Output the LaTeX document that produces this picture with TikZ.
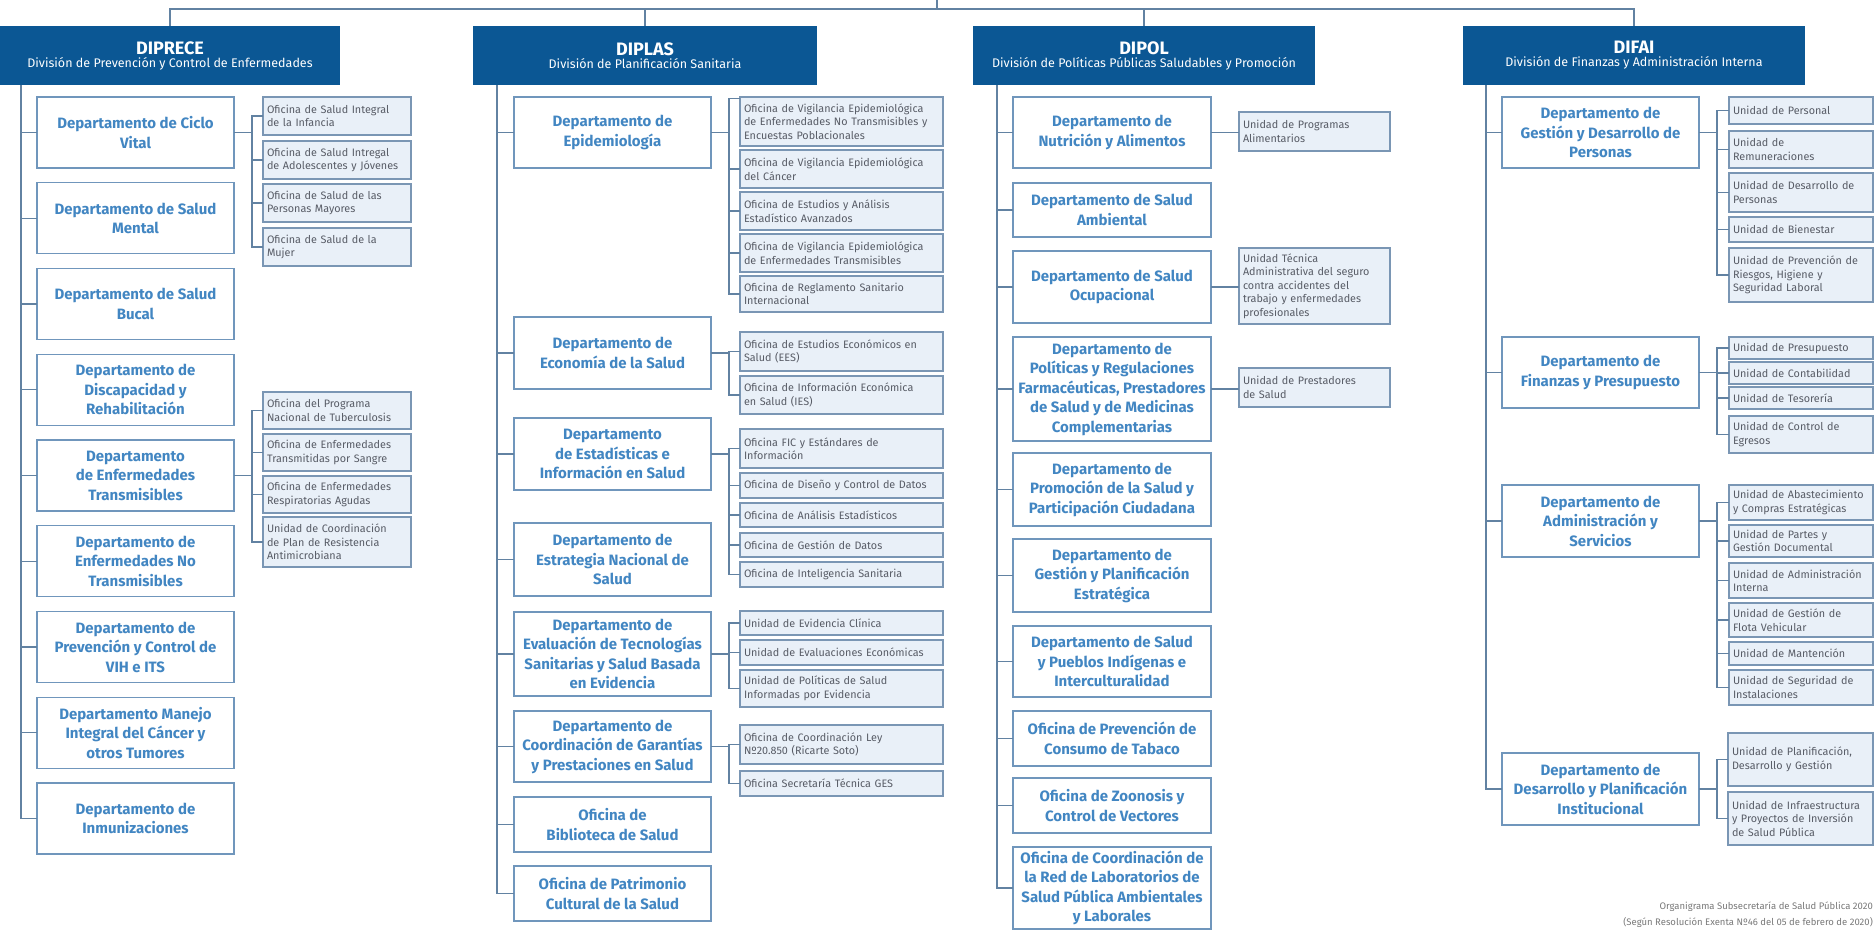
\documentclass[tikz,border=0pt]{standalone}
\usepackage{fontspec}
\setmainfont{Fira Sans}

\definecolor{hdrblue}{RGB}{11,87,148}
\definecolor{depttext}{RGB}{66,134,194}
\definecolor{deptline}{RGB}{112,150,188}
\definecolor{unitfill}{RGB}{233,240,248}
\definecolor{unitline}{RGB}{122,150,180}
\definecolor{unittext}{RGB}{88,92,102}
\definecolor{connline}{RGB}{98,130,162}
\definecolor{foottext}{RGB}{120,120,120}

\newcommand{\hdrtitle}{\fontsize{18}{20}\selectfont\bfseries}
\newcommand{\hdrsub}{\fontsize{12.5}{14}\selectfont}
\newcommand{\dptfnt}{\fontsize{15}{19.5}\selectfont\bfseries}
\newcommand{\untfnt}{\fontsize{10.8}{13.5}\selectfont\hyphenpenalty=10000\exhyphenpenalty=10000}

\tikzset{
  hdr/.style={fill=hdrblue, text=white, minimum height=59, inner sep=0pt, align=center},
  dept/.style={draw=deptline, line width=1.3pt, fill=white, text=depttext, minimum width=197,
    align=center, inner sep=2pt, font=\dptfnt},
  unit/.style={draw=unitline, line width=1.1pt, fill=unitfill, text=unittext, align=left,
    inner xsep=4pt, inner ysep=1pt, font=\untfnt},
  conn/.style={draw=connline, line width=1.1pt, line cap=rect},
  foot/.style={text=foottext, font=\fontsize{9.5}{11}\selectfont, inner sep=0pt}
}

\begin{document}
\begin{tikzpicture}[x=1pt,y=-1pt]
\useasboundingbox (0,0) rectangle (1874,930);

\coordinate (root) at (937,0);
\coordinate (bus)  at (937,9);
\coordinate (trA) at (21,0);
\coordinate (trB) at (497,0);
\coordinate (trC) at (997,0);
\coordinate (trD) at (1486,0);
\coordinate (brA) at (252,0);
\coordinate (brB) at (729,0);
\coordinate (brD) at (1717,0);

% divisiones
\begin{scope}[every node/.style={hdr}]
  \node[minimum width=340] (hA) at (170,55.5)  {{\hdrtitle DIPRECE}\\[1pt]{\hdrsub División de Prevención y Control de Enfermedades}};
  \node[minimum width=344] (hB) at (645,55.5)  {{\hdrtitle DIPLAS}\\[1pt]{\hdrsub División de Planificación Sanitaria}};
  \node[minimum width=342] (hC) at (1144,55.5) {{\hdrtitle DIPOL}\\[1pt]{\hdrsub División de Políticas Públicas Saludables y Promoción}};
  \node[minimum width=342] (hD) at (1634,55.5) {{\hdrtitle DIFAI}\\[1pt]{\hdrsub División de Finanzas y Administración Interna}};
\end{scope}

% departamentos
\begin{scope}[every node/.style={dept}]
  \node[minimum height=71] (a1) at (135.5,132.5) {Departamento de Ciclo\\Vital};
  \node[minimum height=71] (a2) at (135.5,218.3) {Departamento de Salud\\Mental};
  \node[minimum height=71] (a3) at (135.5,304)   {Departamento de Salud\\Bucal};
  \node[minimum height=71] (a4) at (135.5,389.8) {Departamento de\\Discapacidad y\\Rehabilitación};
  \node[minimum height=71] (a5) at (135.5,475.5) {Departamento\\de Enfermedades\\Transmisibles};
  \node[minimum height=71] (a6) at (135.5,561.3) {Departamento de\\Enfermedades No\\Transmisibles};
  \node[minimum height=71] (a7) at (135.5,647)   {Departamento de\\Prevención y Control de\\VIH e ITS};
  \node[minimum height=71] (a8) at (135.5,732.8) {Departamento Manejo\\Integral del Cáncer y\\otros Tumores};
  \node[minimum height=71] (a9) at (135.5,818.5) {Departamento de\\Inmunizaciones};

  \node[minimum height=71] (b1) at (612.5,132.5) {Departamento de\\Epidemiología};
  \node[minimum height=72] (b2) at (612.5,353)   {Departamento de\\Economía de la Salud};
  \node[minimum height=72] (b3) at (612.5,454)   {Departamento\\de Estadísticas e\\Información en Salud};
  \node[minimum height=73] (b4) at (612.5,559.5) {Departamento de\\Estrategia Nacional de\\Salud};
  \node[minimum height=84] (b5) at (612.5,654)   {Departamento de\\Evaluación de Tecnologías\\Sanitarias y Salud Basada\\en Evidencia};
  \node[minimum height=71] (b6) at (612.5,746.5) {Departamento de\\Coordinación de Garantías\\y Prestaciones en Salud};
  \node[minimum height=55] (b7) at (612.5,824.5) {Oficina de\\Biblioteca de Salud};
  \node[minimum height=55] (b8) at (612.5,893.5) {Oficina de Patrimonio\\Cultural de la Salud};

  \node[minimum height=71,minimum width=198] (c1)  at (1112,132.5) {Departamento de\\Nutrición y Alimentos};
  \node[minimum height=54,minimum width=198] (c2)  at (1112,210)   {Departamento de Salud\\Ambiental};
  \node[minimum height=72,minimum width=198] (c3)  at (1112,287)   {Departamento de Salud\\Ocupacional};
  \node[minimum height=104,minimum width=198] (c4) at (1112,389)   {Departamento de\\Políticas y Regulaciones\\Farmacéuticas, Prestadores\\de Salud y de Medicinas\\Complementarias};
  \node[minimum height=73,minimum width=198] (c5)  at (1112,489.5) {Departamento de\\Promoción de la Salud y\\Participación Ciudadana};
  \node[minimum height=73,minimum width=198] (c6)  at (1112,575.5) {Departamento de\\Gestión y Planificación\\Estratégica};
  \node[minimum height=71,minimum width=198] (c7)  at (1112,661.5) {Departamento de Salud\\y Pueblos Indígenas e\\Interculturalidad};
  \node[minimum height=55,minimum width=198] (c8)  at (1112,738.5) {Oficina de Prevención de\\Consumo de Tabaco};
  \node[minimum height=55,minimum width=198] (c9)  at (1112,805.5) {Oficina de Zoonosis y\\Control de Vectores};
  \node[minimum height=82,minimum width=198] (c10) at (1112,888)   {Oficina de Coordinación de\\la Red de Laboratorios de\\Salud Pública Ambientales\\y Laborales};

  \node[minimum height=71] (d1) at (1600.5,132.5) {Departamento de\\Gestión y Desarrollo de\\Personas};
  \node[minimum height=71] (d2) at (1600.5,372.5) {Departamento de\\Finanzas y Presupuesto};
  \node[minimum height=72] (d3) at (1600.5,521)   {Departamento de\\Administración y\\Servicios};
  \node[minimum height=72] (d4) at (1600.5,789)   {Departamento de\\Desarrollo y Planificación\\Institucional};
\end{scope}

% oficinas y unidades
\begin{scope}[every node/.style={unit}]
  \node[text width=140,minimum height=38] (ao1) at (337,116)   {Oficina de Salud Integral\\de la Infancia};
  \node[text width=140,minimum height=38] (ao2) at (337,160)   {Oficina de Salud Intregal\\de Adolescentes y Jóvenes};
  \node[text width=140,minimum height=38] (ao3) at (337,203)   {Oficina de Salud de las\\Personas Mayores};
  \node[text width=140,minimum height=38] (ao4) at (337,247)   {Oficina de Salud de la\\Mujer};
  \node[text width=140,minimum height=37] (ao5) at (337,410.5) {Oficina del Programa\\Nacional de Tuberculosis};
  \node[text width=140,minimum height=37] (ao6) at (337,452.5) {Oficina de Enfermedades\\Transmitidas por Sangre};
  \node[text width=140,minimum height=37] (ao7) at (337,494.5) {Oficina de Enfermedades\\Respiratorias Agudas};
  \node[text width=140,minimum height=50] (ao8) at (337,542)   {Unidad de Coordinación\\de Plan de Resistencia\\Antimicrobiana};

  \node[text width=195,minimum height=49] (bo1)  at (841.5,121.5) {Oficina de Vigilancia Epidemiológica\\de Enfermedades No Transmisibles y\\Encuestas Poblacionales};
  \node[text width=195,minimum height=38] (bo2)  at (841.5,169)   {Oficina de Vigilancia Epidemiológica\\del Cáncer};
  \node[text width=195,minimum height=38] (bo3)  at (841.5,211)   {Oficina de Estudios y Análisis\\Estadístico Avanzados};
  \node[text width=195,minimum height=38] (bo4)  at (841.5,253)   {Oficina de Vigilancia Epidemiológica\\de Enfermedades Transmisibles};
  \node[text width=195,minimum height=36] (bo5)  at (841.5,294)   {Oficina de Reglamento Sanitario\\Internacional};
  \node[text width=195,minimum height=39] (bo6)  at (841.5,351.5) {Oficina de Estudios Económicos en\\Salud (EES)};
  \node[text width=195,minimum height=38] (bo7)  at (841.5,395)   {Oficina de Información Económica\\en Salud (IES)};
  \node[text width=195,minimum height=39] (bo8)  at (841.5,448.5) {Oficina FIC y Estándares de\\Información};
  \node[text width=195,minimum height=25] (bo9)  at (841.5,485.5) {Oficina de Diseño y Control de Datos};
  \node[text width=195,minimum height=24] (bo10) at (841.5,515)   {Oficina de Análisis Estadísticos};
  \node[text width=195,minimum height=24] (bo11) at (841.5,545)   {Oficina de Gestión de Datos};
  \node[text width=195,minimum height=25] (bo12) at (841.5,574.5) {Oficina de Inteligencia Sanitaria};
  \node[text width=195,minimum height=24] (bo13) at (841.5,623)   {Unidad de Evidencia Clínica};
  \node[text width=195,minimum height=25] (bo14) at (841.5,652.5) {Unidad de Evaluaciones Económicas};
  \node[text width=195,minimum height=37] (bo15) at (841.5,688.5) {Unidad de Políticas de Salud\\Informadas por Evidencia};
  \node[text width=195,minimum height=39] (bo16) at (841.5,744.5) {Oficina de Coordinación Ley\\Nº20.850 (Ricarte Soto)};
  \node[text width=195,minimum height=25] (bo17) at (841.5,783.5) {Oficina Secretaría Técnica GES};

  \node[text width=143,minimum height=39] (co1) at (1314.5,131.5) {Unidad de Programas\\Alimentarios};
  \node[text width=143,minimum height=76] (co2) at (1314.5,286)   {Unidad Técnica\\Administrativa del seguro\\contra accidentes del\\trabajo y enfermedades\\profesionales};
  \node[text width=143,minimum height=39] (co3) at (1314.5,387.5) {Unidad de Prestadores\\de Salud};

  \node[text width=136,minimum height=27] (do1)  at (1801,110.5) {Unidad de Personal};
  \node[text width=136,minimum height=37] (do2)  at (1801,149.5) {Unidad de\\Remuneraciones};
  \node[text width=136,minimum height=39] (do3)  at (1801,192.5) {Unidad de Desarrollo de\\Personas};
  \node[text width=136,minimum height=25] (do4)  at (1801,229.5) {Unidad de Bienestar};
  \node[text width=136,minimum height=54] (do5)  at (1801,275)   {Unidad de Prevención de\\Riesgos, Higiene y\\Seguridad Laboral};
  \node[text width=136,minimum height=22] (do6)  at (1801,348)   {Unidad de Presupuesto};
  \node[text width=136,minimum height=22] (do7)  at (1801,373)   {Unidad de Contabilidad};
  \node[text width=136,minimum height=22] (do8)  at (1801,398)   {Unidad de Tesorería};
  \node[text width=136,minimum height=37] (do9)  at (1801,434.5) {Unidad de Control de\\Egresos};
  \node[text width=136,minimum height=35] (do10) at (1801,502.5) {Unidad de Abastecimiento\\y Compras Estratégicas};
  \node[text width=136,minimum height=32] (do11) at (1801,541)   {Unidad de Partes y\\Gestión Documental};
  \node[text width=136,minimum height=35] (do12) at (1801,580.5) {Unidad de Administración\\Interna};
  \node[text width=136,minimum height=34] (do13) at (1801,620)   {Unidad de Gestión de\\Flota Vehicular};
  \node[text width=136,minimum height=23] (do14) at (1801,653.5) {Unidad de Mantención};
  \node[text width=136,minimum height=35] (do15) at (1801,687.5) {Unidad de Seguridad de\\Instalaciones};
  \node[text width=137,minimum height=53] (do16) at (1800.5,759.5) {Unidad de Planificación,\\Desarrollo y Gestión};
  \node[text width=137,minimum height=53] (do17) at (1800.5,818.5) {Unidad de Infraestructura\\y Proyectos de Inversión\\de Salud Pública};
\end{scope}

% conectores
\begin{scope}[every edge/.style={conn}]
  \path (root) edge (bus);
  \draw[conn] (hA.north) |- (bus) -| (hD.north);
  \path (hB.north) edge (hB.north |- bus);
  \path (hC.north) edge (hC.north |- bus);

  \draw[conn] (hA.south -| trA) |- (a9.west);
  \path (a1.west) edge (a1.west -| trA);
  \path (a2.west) edge (a2.west -| trA);
  \path (a3.west) edge (a3.west -| trA);
  \path (a4.west) edge (a4.west -| trA);
  \path (a5.west) edge (a5.west -| trA);
  \path (a6.west) edge (a6.west -| trA);
  \path (a7.west) edge (a7.west -| trA);
  \path (a8.west) edge (a8.west -| trA);

  \draw[conn] (hB.south -| trB) |- (b8.west);
  \path (b1.west) edge (b1.west -| trB);
  \path (b2.west) edge (b2.west -| trB);
  \path (b3.west) edge (b3.west -| trB);
  \path (b4.west) edge (b4.west -| trB);
  \path (b5.west) edge (b5.west -| trB);
  \path (b6.west) edge (b6.west -| trB);
  \path (b7.west) edge (b7.west -| trB);

  \draw[conn] (hC.south -| trC) |- (c10.west);
  \path (c1.west) edge (c1.west -| trC);
  \path (c2.west) edge (c2.west -| trC);
  \path (c3.west) edge (c3.west -| trC);
  \path (c4.west) edge (c4.west -| trC);
  \path (c5.west) edge (c5.west -| trC);
  \path (c6.west) edge (c6.west -| trC);
  \path (c7.west) edge (c7.west -| trC);
  \path (c8.west) edge (c8.west -| trC);
  \path (c9.west) edge (c9.west -| trC);

  \draw[conn] (hD.south -| trD) |- (d4.west);
  \path (d1.west) edge (d1.west -| trD);
  \path (d2.west) edge (d2.west -| trD);
  \path (d3.west) edge (d3.west -| trD);

  % DIPRECE
  \path (a1.east) edge (a1.east -| brA);
  \draw[conn] (ao1.west) -- (ao1.west -| brA) |- (ao4.west);
  \path (ao2.west) edge (ao2.west -| brA);
  \path (ao3.west) edge (ao3.west -| brA);
  \path (a5.east) edge (a5.east -| brA);
  \draw[conn] (ao5.west) -- (ao5.west -| brA) |- (ao8.west);
  \path (ao6.west) edge (ao6.west -| brA);
  \path (ao7.west) edge (ao7.west -| brA);

  % DIPLAS
  \path (b1.east) edge (b1.east -| brB);
  \draw[conn] ([yshift=-2pt]bo1.north west) -- ([yshift=-2pt]bo1.north west -| brB) |- (bo5.west);
  \path (bo2.west) edge (bo2.west -| brB);
  \path (bo3.west) edge (bo3.west -| brB);
  \path (bo4.west) edge (bo4.west -| brB);
  \path (b2.east) edge (b2.east -| brB);
  \draw[conn] (bo6.west) -- (bo6.west -| brB) |- (bo7.west);
  \path (b3.east) edge (b3.east -| brB);
  \draw[conn] (bo8.west) -- (bo8.west -| brB) |- (bo12.west);
  \path (bo9.west)  edge (bo9.west -| brB);
  \path (bo10.west) edge (bo10.west -| brB);
  \path (bo11.west) edge (bo11.west -| brB);
  \path (b5.east) edge (b5.east -| brB);
  \draw[conn] (bo13.west) -- (bo13.west -| brB) |- (bo15.west);
  \path (bo14.west) edge (bo14.west -| brB);
  \path (b6.east) edge (b6.east -| brB);
  \draw[conn] (bo16.west) -- (bo16.west -| brB) |- (bo17.west);

  % DIPOL
  \path (c1.east) edge (c1.east -| co1.west);
  \path (c3.east) edge (c3.east -| co2.west);
  \path (c4.east) edge (c4.east -| co3.west);

  % DIFAI
  \path (d1.east) edge (d1.east -| brD);
  \draw[conn] (do1.west) -- (do1.west -| brD) |- (do5.west);
  \path (do2.west) edge (do2.west -| brD);
  \path (do3.west) edge (do3.west -| brD);
  \path (do4.west) edge (do4.west -| brD);
  \path (d2.east) edge (d2.east -| brD);
  \draw[conn] (do6.west) -- (do6.west -| brD) |- (do9.west);
  \path (do7.west) edge (do7.west -| brD);
  \path (do8.west) edge (do8.west -| brD);
  \path (d3.east) edge (d3.east -| brD);
  \draw[conn] (do10.west) -- (do10.west -| brD) |- (do15.west);
  \path (do11.west) edge (do11.west -| brD);
  \path (do12.west) edge (do12.west -| brD);
  \path (do13.west) edge (do13.west -| brD);
  \path (do14.west) edge (do14.west -| brD);
  \path (d4.east) edge (d4.east -| brD);
  \draw[conn] (do16.west) -- (do16.west -| brD) |- (do17.west);
\end{scope}

\node[foot, anchor=east] (ft1) at (1873,907) {Organigrama Subsecretaría de Salud Pública 2020};
\node[foot, anchor=east] (ft2) at (1873,922) {(Según Resolución Exenta Nº46 del 05 de febrero de 2020)};

\end{tikzpicture}
\end{document}
